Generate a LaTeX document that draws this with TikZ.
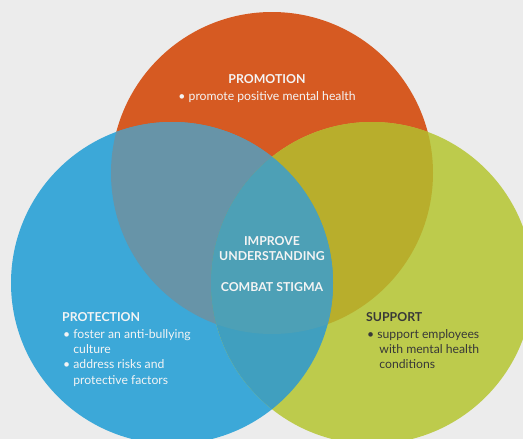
\documentclass[tikz,border=0pt]{standalone}
\usepackage{fontspec}
\setmainfont{Lato}
\definecolor{bgc}{HTML}{ECECEC}
\definecolor{orangec}{HTML}{D65A22}
\definecolor{bluec}{HTML}{3CA8D8}
\definecolor{greenc}{HTML}{BDCB4C}
\definecolor{boc}{HTML}{6794A8}
\definecolor{ogc}{HTML}{B8AE2C}
\definecolor{bgrc}{HTML}{409FBF}
\definecolor{allc}{HTML}{4DA0B6}
\definecolor{lighttext}{HTML}{F4F4F4}
\definecolor{darktext}{HTML}{383838}
\tikzset{
  title/.style={font=\fontsize{12.3}{15.3}\selectfont\bfseries, inner sep=0pt},
  body/.style={font=\fontsize{12.2}{15.3}\selectfont, inner sep=0pt, align=left},
}
\begin{document}
\begin{tikzpicture}[x=1pt,y=-1pt]
\useasboundingbox (0,0) rectangle (523,439);
\fill[bgc] (0,0) rectangle (523,439);
\begin{scope}
\clip (0,0) rectangle (523,439);
\coordinate (co) at (272,173);
\coordinate (cb) at (172,283);
\coordinate (cg) at (372,283);
\fill[orangec] (co) circle[radius=161];
\fill[bluec] (cb) circle[radius=161];
\fill[greenc] (cg) circle[radius=161];
\begin{scope}
\clip (co) circle[radius=161];
\fill[boc] (cb) circle[radius=161];
\fill[ogc] (cg) circle[radius=161];
\end{scope}
\begin{scope}
\clip (cb) circle[radius=161];
\fill[bgrc] (cg) circle[radius=161];
\clip (cg) circle[radius=161];
\fill[allc] (co) circle[radius=161];
\end{scope}
\end{scope}
% texts
\node[title, text=lighttext, anchor=base] (promt) at (267,83) {PROMOTION};
\node[body, text=lighttext, anchor=base] (promb) at (267,100) {\textbullet\ promote positive mental health};
\node[title, text=lighttext, anchor=base] (mid0) at (272,245) {IMPROVE};
\node[title, text=lighttext, anchor=base] (mid1) at (272,260.5) {UNDERSTANDING};
\node[title, text=lighttext, anchor=base] (mid2) at (272,291.5) {COMBAT STIGMA};
\node[title, text=lighttext, anchor=base west] (prott) at (62,321.5) {PROTECTION};
\node[body, text=lighttext, anchor=north west] (protb) at (63,329) {\textbullet\ foster an anti-bullying\\\phantom{\textbullet\ }culture\\\textbullet\ address risks and\\\phantom{\textbullet\ }protective factors};
\node[title, text=darktext, anchor=base west] (supt) at (366,321.5) {SUPPORT};
\node[body, text=darktext, anchor=north west] (supb) at (367,329) {\textbullet\ support employees\\\phantom{\textbullet\ }\,with mental health\\\phantom{\textbullet\ }\,conditions};
\end{tikzpicture}
\end{document}
